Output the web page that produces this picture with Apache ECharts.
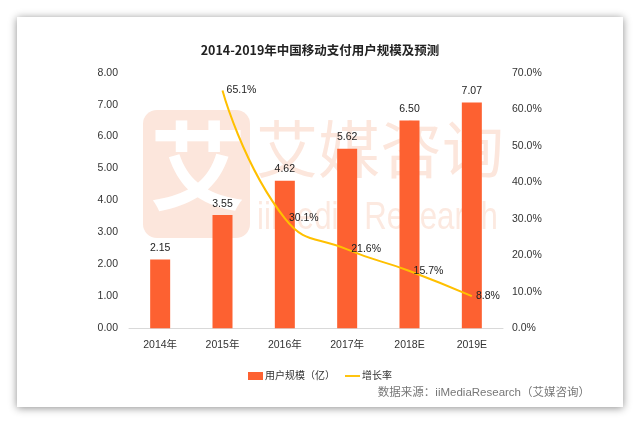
<!DOCTYPE html>
<html><head><meta charset="utf-8">
<script src="https://cdn.jsdelivr.net/npm/echarts@6/dist/echarts.min.js"></script>
<style>html,body{margin:0;padding:0;background:#fff}#c{width:640px;height:426px}</style>
</head><body><div id="c"></div>
<script>
var categories = ['2014年','2015年','2016年','2017年','2018E','2019E'];
var userScale = [2.15, 3.55, 4.62, 5.62, 6.50, 7.07];
var growthRate = [null, 65.1, 30.1, 21.6, 15.7, 8.8];
var leftTicks = [0, 8, 1];
var rightTicks = [0, 70, 10];

var FONT = "'Liberation Sans','Noto Sans CJK SC',sans-serif";
var chart = echarts.init(document.getElementById('c'));
chart.setOption({
  animation: false,
  backgroundColor: '#fff',
  textStyle: {fontFamily: FONT},
  title: {
    text: '2014-2019年中国移动支付用户规模及预测',
    left: 'center', top: 39,
    textStyle: {fontSize: 12.5, fontWeight: 'bold', color: '#222', fontFamily: "'Noto Sans CJK SC',sans-serif"}
  },
  graphic: [
    {type: 'rect', z: -10, shape: {x: 17, y: 17, width: 606, height: 390},
     style: {fill: '#fff', shadowBlur: 8, shadowColor: 'rgba(0,0,0,0.45)', shadowOffsetX: 0, shadowOffsetY: 1}},
    {type: 'rect', z: -5, shape: {x: 143, y: 110, width: 107, height: 128, r: 14},
     style: {fill: '#fce6dc'}},
    {type: 'text', z: -4, left: 150, top: 118,
     style: {text: '艾', fill: '#fff', font: 'bold 96px "Noto Sans CJK SC"'}},
    {type: 'text', z: -4, left: 256, top: 118,
     style: {text: '艾媒咨询', fill: '#fce6dc', font: '62px "Noto Sans CJK SC"'}},
    {type: 'text', z: -4, x: 257, y: 200, scaleX: 0.82,
     style: {text: 'iiMedia Research', fill: '#fce9e0', font: '38px "Liberation Sans", sans-serif'}},
    {type: 'text', right: 50, top: 387,
     style: {text: '数据来源：iiMediaResearch（艾媒咨询）', fill: '#777', font: '11.5px ' + FONT}}
  ],
  legend: {
    top: 366, left: 'center', itemGap: 10,
    itemWidth: 15, itemHeight: 8,
    textStyle: {fontSize: 10, color: '#333', fontFamily: FONT, padding: [0, 0, 0, -3]},
    data: [
      {name: '用户规模（亿）', icon: 'rect'},
      {name: '增长率', icon: 'path://M0,4L16,4L16,6L0,6Z'}
    ]
  },
  grid: {left: 129, right: 137, top: 72.7, bottom: 97.7},
  xAxis: {
    type: 'category', data: categories,
    axisLine: {lineStyle: {color: '#d9d9d9'}},
    axisTick: {show: false},
    axisLabel: {color: '#333', fontSize: 10.5, margin: 12, fontFamily: FONT}
  },
  yAxis: [
    {type: 'value', min: leftTicks[0], max: leftTicks[1], interval: leftTicks[2],
     axisLine: {show: false}, axisTick: {show: false}, splitLine: {show: false},
     axisLabel: {color: '#333', fontSize: 10.5, margin: 11, formatter: function(v){return v.toFixed(2);}}},
    {type: 'value', min: rightTicks[0], max: rightTicks[1], interval: rightTicks[2],
     axisLine: {show: false}, axisTick: {show: false}, splitLine: {show: false},
     axisLabel: {color: '#333', fontSize: 10.5, margin: 9, formatter: function(v){return v.toFixed(1) + '%';}}}
  ],
  series: [
    {name: '用户规模（亿）', type: 'bar', data: userScale, barWidth: 20,
     itemStyle: {color: '#fd6131'},
     label: {show: true, position: 'top', distance: 6, color: '#222', fontSize: 10.5,
       formatter: function(p){return p.value.toFixed(2);}}},
    {name: '增长率', type: 'line', yAxisIndex: 1, data: growthRate, smooth: 0.5,
     showSymbol: true, symbol: 'circle', symbolSize: 0.1, connectNulls: false,
     lineStyle: {color: '#ffc000', width: 2},
     itemStyle: {color: '#ffc000'},
     label: {show: true, position: 'right', distance: 4, color: '#222', fontSize: 10.5,
       formatter: function(p){return p.value.toFixed(1) + '%';}}}
  ]
});
</script></body></html>
